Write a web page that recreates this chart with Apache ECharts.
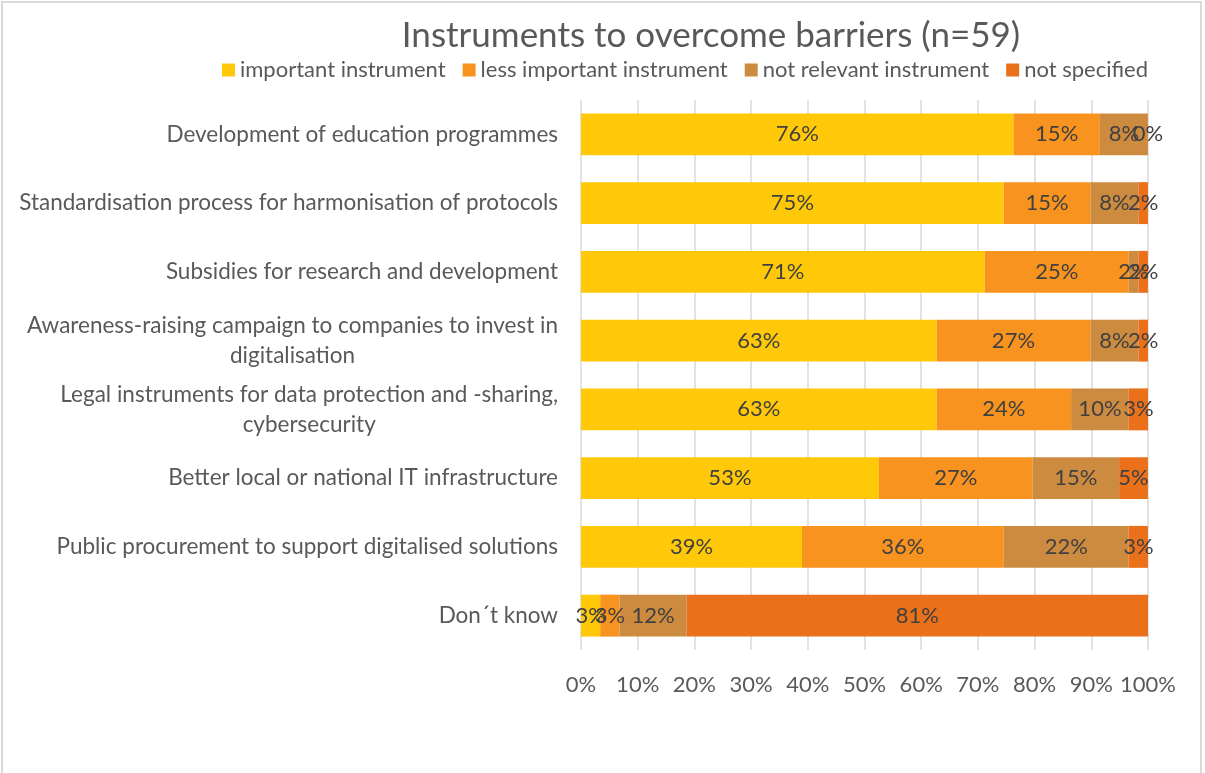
<!DOCTYPE html>
<html><head><meta charset="utf-8">
<script src="https://cdn.jsdelivr.net/npm/echarts@6/dist/echarts.min.js"></script>
<style>
html,body{margin:0;padding:0;background:#fff;}
#c{position:absolute;left:1px;top:1px;width:1201px;height:773px;border-left:2px solid #d9d9d9;border-right:2px solid #d9d9d9;border-top:2px solid #d9d9d9;box-sizing:border-box;}
</style></head><body>
<div id="c"></div>
<script>
const categories = [
  "Development of education programmes",
  "Standardisation process for harmonisation of protocols",
  "Subsidies for research and development",
  "Awareness-raising campaign to companies to invest in\ndigitalisation",
  "Legal instruments for data protection and -sharing,\ncybersecurity",
  "Better local or national IT infrastructure",
  "Public procurement to support digitalised solutions",
  "Don´t know"
];
const seriesNames = ["important instrument","less important instrument","not relevant instrument","not specified"];
const important    = [76.27, 74.58, 71.19, 62.71, 62.71, 52.54, 38.98, 3.39];
const lessImportant= [15.25, 15.25, 25.42, 27.12, 23.73, 27.12, 35.59, 3.39];
const notRelevant  = [8.47, 8.47, 1.69, 8.47, 10.17, 15.25, 22.03, 11.86];
const notSpecified = [0.00, 1.69, 1.69, 1.69, 3.39, 5.08, 3.39, 81.36];
const xTicks = [0,10,20,30,40,50,60,70,80,90,100];

const colors = ["#FFC90A","#F7931E","#CD8B40","#EB701A"];
const font = "Lato";
const fs = 22;
const chart = echarts.init(document.getElementById('c'));
const values = [important, lessImportant, notRelevant, notSpecified];
chart.setOption({
  animation:false,
  color: colors,
  title:{text:"Instruments to overcome barriers (n=59)", left:703, textAlign:'center', top:10,
    textStyle:{fontFamily:font,fontSize:35,fontWeight:'normal',color:'#595959'}},
  legend:{data:seriesNames,top:51,left:214,itemWidth:13,itemHeight:13,itemGap:17,icon:'rect',
    textStyle:{fontFamily:font,fontSize:fs,color:'#595959'}},
  grid:{left:578,right:52,top:97,height:550},
  xAxis:{type:'value',min:0,max:100,interval:10,
    axisLabel:{formatter:'{value}%',fontFamily:font,fontSize:fs,color:'#595959',margin:24},
    axisLine:{show:false},axisTick:{show:false},
    splitLine:{lineStyle:{color:'#d9d9d9',width:1.5}}},
  yAxis:{type:'category',inverse:true,data:categories,
    axisLine:{show:false},axisTick:{show:false},
    axisLabel:{margin:23,fontFamily:font,fontSize:22.5,color:'#595959',lineHeight:30,
      formatter:v=>v.split('\n').map(s=>'{c|'+s+'}').join('\n'),
      rich:{c:{align:'center',fontFamily:font,fontSize:22.5,color:'#595959',lineHeight:30}}}},
  series: seriesNames.map((n,i)=>({
    name:n,type:'bar',stack:'t',barCategoryGap:'39%',data:values[i],
    label:{show:true,position:'inside',formatter:p=>Math.round(p.value)+'%',
      fontFamily:font,fontSize:fs,color:'#404040'},
    emphasis:{disabled:true}
  }))
});
</script></body></html>
